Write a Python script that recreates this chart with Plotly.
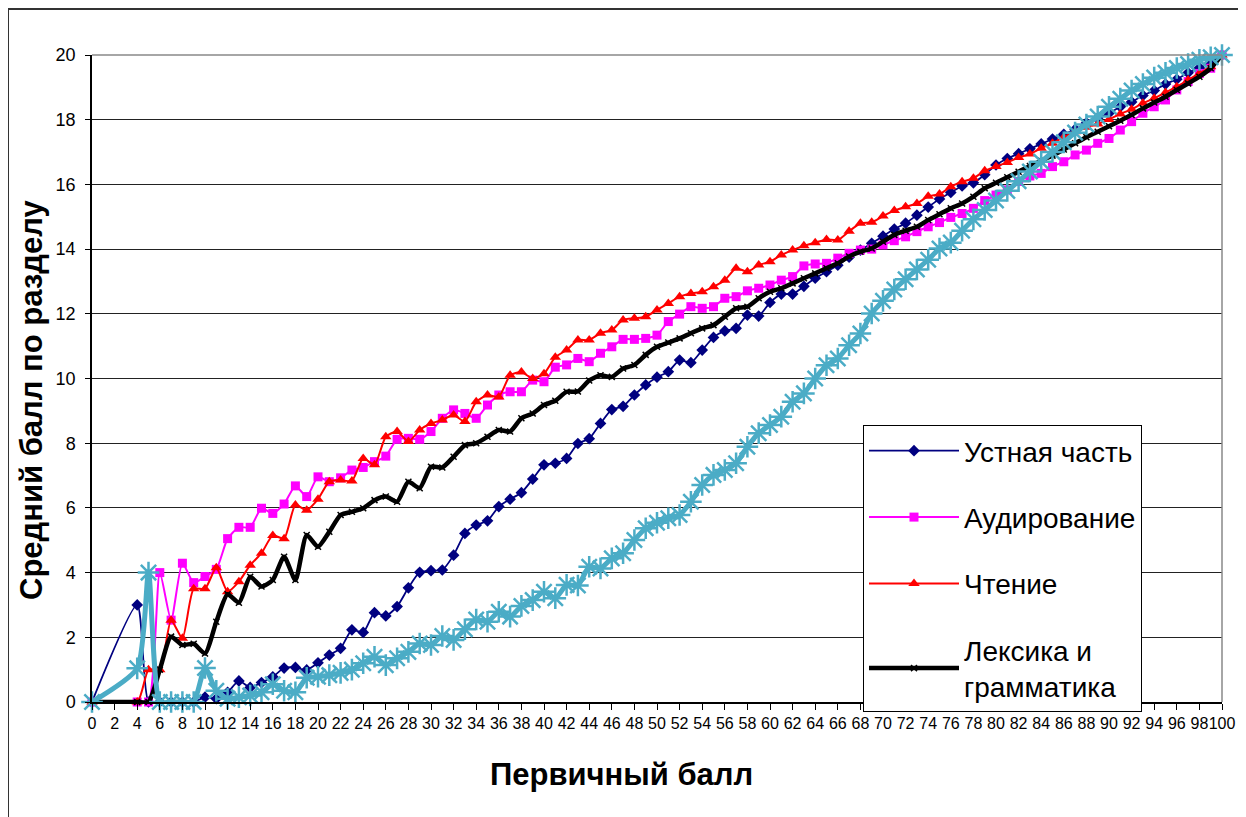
import plotly.graph_objects as go

x_scores = list(range(0, 101))
x_tick_vals = list(range(0, 101, 2))
x_tick_text = [str(v) for v in x_tick_vals]

ustnaya = [0, None, None, None, 3.0, 0, 0, 0, 0, 0,
           0.15, 0.1, 0.3, 0.65, 0.45, 0.6, 0.78, 1.05, 1.07, 0.99,
           1.21, 1.45, 1.66, 2.23, 2.15, 2.76, 2.66, 2.95, 3.53, 4.01,
           4.06, 4.08, 4.54, 5.21, 5.47, 5.60, 6.04, 6.27, 6.47, 6.89,
           7.33, 7.38, 7.53, 7.99, 8.14, 8.61, 9.04, 9.14, 9.49, 9.80,
           10.04, 10.21, 10.57, 10.49, 10.88, 11.27, 11.47, 11.55, 11.96, 11.93,
           12.35, 12.61, 12.61, 12.85, 13.1, 13.3, 13.5, 13.75, 13.97, 14.18,
           14.4, 14.62, 14.8, 15.05, 15.3, 15.55, 15.75, 15.95, 16.05, 16.3,
           16.6, 16.8, 16.95, 17.1, 17.25, 17.4, 17.55, 17.7, 17.9, 18.05,
           18.2, 18.4, 18.55, 18.75, 18.9, 19.1, 19.25, 19.45, 19.6, 19.8,
           20.0]

audirovanie = [0, None, None, None, 0, 0, 4.0, 2.53, 4.29, 3.69,
               3.88, 4.1, 5.05, 5.4, 5.4, 5.99, 5.83, 6.12, 6.68, 6.35,
               6.96, 6.81, 6.93, 7.17, 7.25, 7.43, 7.6, 8.12, 8.15, 8.12,
               8.36, 8.77, 9.03, 8.92, 8.77, 9.18, 9.49, 9.59, 9.59, 9.95,
               9.9, 10.35, 10.42, 10.62, 10.52, 10.78, 10.98, 11.21, 11.21, 11.24,
               11.34, 11.76, 11.99, 12.22, 12.17, 12.22, 12.48, 12.53, 12.71, 12.79,
               12.89, 13.04, 13.15, 13.48, 13.54, 13.56, 13.72, 13.87, 13.97, 14.0,
               14.13, 14.26, 14.38, 14.54, 14.69, 14.82, 14.98, 15.1, 15.26, 15.5,
               15.67, 15.83, 16.09, 16.26, 16.34, 16.55, 16.7, 16.91, 17.06, 17.27,
               17.42, 17.68, 17.94, 18.2, 18.4, 18.61, 18.92, 19.18, 19.43, 19.59,
               20.0]

chtenie = [0, None, None, None, 0, 1.0, 1.0, 2.53, 1.97, 3.5,
           3.5, 4.15, 3.41, 3.72, 4.23, 4.6, 5.15, 5.05, 6.09, 5.93,
           6.27, 6.81, 6.86, 6.83, 7.53, 7.33, 8.2, 8.36, 8.05, 8.41,
           8.61, 8.72, 8.87, 8.67, 9.28, 9.49, 9.43, 10.1, 10.2, 10.0,
           10.15, 10.66, 10.88, 11.19, 11.19, 11.4, 11.5, 11.81, 11.86, 11.91,
           12.12, 12.32, 12.53, 12.63, 12.68, 12.84, 13.04, 13.41, 13.3, 13.51,
           13.61, 13.82, 13.97, 14.1, 14.2, 14.3, 14.28, 14.55, 14.8, 14.83,
           15.02, 15.19, 15.31, 15.41, 15.63, 15.7, 15.93, 16.08, 16.19, 16.42,
           16.55, 16.68, 16.83, 16.94, 17.12, 17.27, 17.46, 17.63, 17.77, 17.87,
           18.01, 18.18, 18.32, 18.51, 18.66, 18.84, 19.02, 19.23, 19.43, 19.64,
           20.0]

leksika = [0, None, None, None, 0, 0, 1.0, 2.02, 1.76, 1.8,
           1.5, 2.48, 3.33, 3.07, 3.87, 3.57, 3.77, 4.49, 3.77, 5.16,
           4.80, 5.26, 5.78, 5.88, 5.99, 6.24, 6.35, 6.19, 6.81, 6.61,
           7.27, 7.25, 7.58, 7.94, 8.0, 8.2, 8.41, 8.36, 8.77, 8.92,
           9.18, 9.31, 9.59, 9.6, 9.94, 10.1, 10.05, 10.31, 10.42, 10.73,
           10.98, 11.11, 11.24, 11.4, 11.55, 11.65, 11.91, 12.17, 12.22, 12.48,
           12.68, 12.79, 12.94, 13.1, 13.25, 13.41, 13.56, 13.77, 13.92, 14.02,
           14.23, 14.44, 14.57, 14.69, 14.9, 15.08, 15.26, 15.41, 15.62, 15.88,
           16.05, 16.22, 16.39, 16.57, 16.73, 16.89, 17.08, 17.27, 17.46, 17.63,
           17.8, 17.97, 18.15, 18.35, 18.53, 18.71, 18.92, 19.12, 19.33, 19.59,
           20.0]

pismo = [0, None, None, None, 1.04, 4.0, 0, 0, 0, 0,
         1.05, 0.35, 0.1, 0.15, 0.2, 0.3, 0.55, 0.35, 0.3, 0.75,
         0.78, 0.83, 0.9, 1.0, 1.2, 1.4, 1.14, 1.35, 1.55, 1.81,
         1.76, 2.04, 1.92, 2.25, 2.55, 2.48, 2.79, 2.64, 2.97, 3.15,
         3.41, 3.21, 3.62, 3.6, 4.18, 4.13, 4.44, 4.6, 5.01, 5.37,
         5.54, 5.68, 5.78, 6.19, 6.71, 7.02, 7.17, 7.38, 7.89, 8.31,
         8.56, 8.82, 9.28, 9.54, 10.0, 10.41, 10.62, 11.03, 11.39, 12.01,
         12.4, 12.75, 13.07, 13.37, 13.67, 14.02, 14.2, 14.57, 14.92, 15.21,
         15.5, 15.8, 16.1, 16.4, 16.7, 17.0, 17.3, 17.6, 17.85, 18.1,
         18.4, 18.65, 18.9, 19.1, 19.3, 19.45, 19.6, 19.72, 19.85, 19.93,
         20.0]

FONT = "Liberation Sans, Arial, sans-serif"

# plot area in page pixels (page has an 8px body margin)
PL, PR, PT, PB = 92, 1222, 55, 702
PW, PH = PR - PL, PB - PT


def px(p):
    return (p - PL) / PW


def py(p):
    return (PB - p) / PH


fig = go.Figure()

common = dict(mode="lines+markers", connectgaps=True, cliponaxis=False,
              line_shape="spline")

fig.add_trace(go.Scatter(x=x_scores, y=ustnaya, name="Устная часть",
                         line=dict(color="#000080", width=1.8, smoothing=0.6),
                         marker=dict(symbol="diamond", size=9, color="#000080"),
                         legendgroup="a", **common))
fig.add_trace(go.Scatter(x=x_scores, y=audirovanie, name="Аудирование",
                         line=dict(color="#FF00FF", width=2, smoothing=0.6),
                         marker=dict(symbol="square", size=9, color="#FF00FF"),
                         legendgroup="b", **common))
fig.add_trace(go.Scatter(x=x_scores, y=chtenie, name="Чтение",
                         line=dict(color="#FF0000", width=2, smoothing=0.6),
                         marker=dict(symbol="triangle-up", size=10, color="#FF0000"),
                         legendgroup="c", **common))
fig.add_trace(go.Scatter(x=x_scores, y=leksika, name="Лексика и<br>грамматика",
                         line=dict(color="#000000", width=4.5, smoothing=0.6),
                         marker=dict(symbol="x-thin-open", size=6, color="#000000",
                                     line=dict(color="#000000", width=1.5)),
                         legendgroup="d", **common))
fig.add_trace(go.Scatter(x=x_scores, y=pismo, name="Письмо", showlegend=False,
                         line=dict(color="#4BACC6", width=5, smoothing=0.6),
                         marker=dict(symbol="asterisk-open", size=18, color="#4BACC6",
                                     line=dict(color="#4BACC6", width=2.5)),
                         legendgroup="e", **common))

W, H = 1238, 809
fig.update_layout(
    width=W, height=H,
    margin=dict(l=PL - 8, r=W - (PR - 8), t=PT - 8, b=H - (PB - 8)),
    paper_bgcolor="white", plot_bgcolor="white",
    font=dict(family=FONT, color="black"),
    showlegend=True,
    legend=dict(x=px(863), y=py(425), xanchor="left", yanchor="top",
                bgcolor="white", bordercolor="black", borderwidth=1,
                font=dict(family=FONT, size=28, color="black"),
                tracegroupgap=27, itemwidth=90, traceorder="grouped"),
    xaxis=dict(range=[0, 100], tickmode="array", tickvals=x_tick_vals,
               ticktext=x_tick_text, tickangle=0,
               ticks="outside", ticklen=6, tickcolor="black",
               showline=True, linecolor="black", linewidth=1.5,
               showgrid=False, zeroline=False,
               tickfont=dict(family=FONT, size=16, color="black")),
    yaxis=dict(range=[0, 20], dtick=2, tick0=0,
               ticks="outside", ticklen=5, tickcolor="black",
               showline=True, linecolor="black", linewidth=1.5,
               showgrid=True, gridcolor="#222222", gridwidth=1,
               zeroline=False, ticklabelstandoff=6,
               tickfont=dict(family=FONT, size=18, color="black")),
    shapes=[
        dict(type="line", xref="paper", yref="paper", x0=0, x1=1, y0=1, y1=1,
             line=dict(color="#888888", width=1.5)),
        dict(type="line", xref="paper", yref="paper", x0=1, x1=1, y0=0, y1=1,
             line=dict(color="#888888", width=1.5)),
        dict(type="rect", xref="paper", yref="paper",
             x0=px(8), x1=px(1241), y0=py(840), y1=py(9),
             line=dict(color="#333333", width=2), fillcolor="rgba(0,0,0,0)",
             layer="below"),
    ],
    annotations=[
        dict(text="<b>Первичный балл</b>", xref="paper", yref="paper",
             x=px(621), y=py(774),
             xanchor="center", yanchor="middle", showarrow=False,
             font=dict(family=FONT, size=31, color="black")),
        dict(text="<b>Средний балл по разделу</b>", xref="paper", yref="paper",
             x=px(31), y=py(400), textangle=-90,
             xanchor="center", yanchor="middle", showarrow=False,
             font=dict(family=FONT, size=31, color="black")),
    ],
)

fig.write_html("out.html")
